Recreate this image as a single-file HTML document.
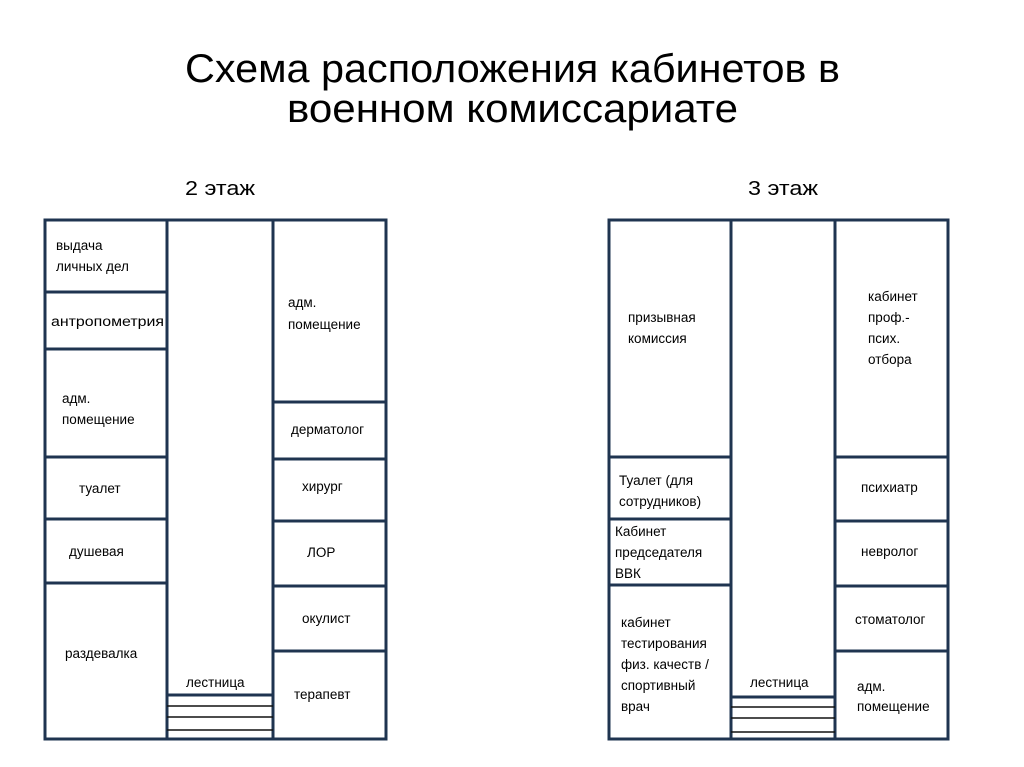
<!DOCTYPE html>
<html><head><meta charset="utf-8"><style>
html,body{margin:0;padding:0;background:#fff;}
svg{display:block;}
text{font-family:"Liberation Sans",sans-serif;fill:#000;}
.s{font-size:13.5px;}
</style></head><body>
<svg width="1024" height="767" viewBox="0 0 1024 767">
<text x="185" y="82" font-size="40" textLength="655" lengthAdjust="spacingAndGlyphs">Схема расположения кабинетов в</text>
<text x="287" y="122" font-size="40" textLength="451" lengthAdjust="spacingAndGlyphs">военном комиссариате</text>
<text x="185" y="195" font-size="20" textLength="70" lengthAdjust="spacingAndGlyphs">2 этаж</text>
<text x="748" y="195" font-size="20" textLength="70" lengthAdjust="spacingAndGlyphs">3 этаж</text>
<g stroke="#1f3450" stroke-width="3" fill="none">
<!-- floor 2 -->
<rect x="45" y="220" width="341" height="519"/>
<line x1="167" y1="220" x2="167" y2="739"/>
<line x1="273" y1="220" x2="273" y2="739"/>
<line x1="45" y1="292" x2="167" y2="292"/>
<line x1="45" y1="349" x2="167" y2="349"/>
<line x1="45" y1="457" x2="167" y2="457"/>
<line x1="45" y1="519" x2="167" y2="519"/>
<line x1="45" y1="583" x2="167" y2="583"/>
<line x1="273" y1="402" x2="386" y2="402"/>
<line x1="273" y1="459" x2="386" y2="459"/>
<line x1="273" y1="521" x2="386" y2="521"/>
<line x1="273" y1="586" x2="386" y2="586"/>
<line x1="273" y1="651" x2="386" y2="651"/>
<line x1="167" y1="695" x2="273" y2="695"/>
<!-- floor 3 -->
<rect x="609" y="220" width="339" height="519"/>
<line x1="731" y1="220" x2="731" y2="739"/>
<line x1="835" y1="220" x2="835" y2="739"/>
<line x1="609" y1="457" x2="731" y2="457"/>
<line x1="609" y1="519" x2="731" y2="519"/>
<line x1="609" y1="585" x2="731" y2="585"/>
<line x1="835" y1="457" x2="948" y2="457"/>
<line x1="835" y1="521" x2="948" y2="521"/>
<line x1="835" y1="586" x2="948" y2="586"/>
<line x1="835" y1="651" x2="948" y2="651"/>
<line x1="731" y1="697" x2="835" y2="697"/>
</g>
<g stroke="#111" stroke-width="1.5">
<line x1="167" y1="706" x2="273" y2="706"/>
<line x1="167" y1="717" x2="273" y2="717"/>
<line x1="167" y1="730" x2="273" y2="730"/>
<line x1="731" y1="707" x2="835" y2="707"/>
<line x1="731" y1="718" x2="835" y2="718"/>
<line x1="731" y1="732" x2="835" y2="732"/>
</g>
<g class="s">
<text x="56" y="250">выдача</text>
<text x="56" y="271">личных дел</text>
<text x="51" y="326" textLength="113" lengthAdjust="spacingAndGlyphs">антропометрия</text>
<text x="62" y="403">адм.</text>
<text x="62" y="424">помещение</text>
<text x="79" y="493">туалет</text>
<text x="69" y="556">душевая</text>
<text x="65" y="658">раздевалка</text>
<text x="186" y="687">лестница</text>
<text x="288" y="307">адм.</text>
<text x="288" y="329">помещение</text>
<text x="291" y="434">дерматолог</text>
<text x="302" y="491">хирург</text>
<text x="307" y="557">ЛОР</text>
<text x="302" y="623">окулист</text>
<text x="294" y="699">терапевт</text>
<text x="628" y="322">призывная</text>
<text x="628" y="343">комиссия</text>
<text x="619" y="485">Туалет (для</text>
<text x="619" y="506">сотрудников)</text>
<text x="615" y="536">Кабинет</text>
<text x="615" y="557">председателя</text>
<text x="615" y="578">ВВК</text>
<text x="621" y="627">кабинет</text>
<text x="621" y="648">тестирования</text>
<text x="621" y="669">физ. качеств /</text>
<text x="621" y="690">спортивный</text>
<text x="621" y="711">врач</text>
<text x="750" y="687">лестница</text>
<text x="868" y="301">кабинет</text>
<text x="868" y="322">проф.-</text>
<text x="868" y="343">псих.</text>
<text x="868" y="364">отбора</text>
<text x="861" y="492">психиатр</text>
<text x="861" y="556">невролог</text>
<text x="855" y="624">стоматолог</text>
<text x="857" y="691">адм.</text>
<text x="857" y="711">помещение</text>
</g>
</svg>
</body></html>
